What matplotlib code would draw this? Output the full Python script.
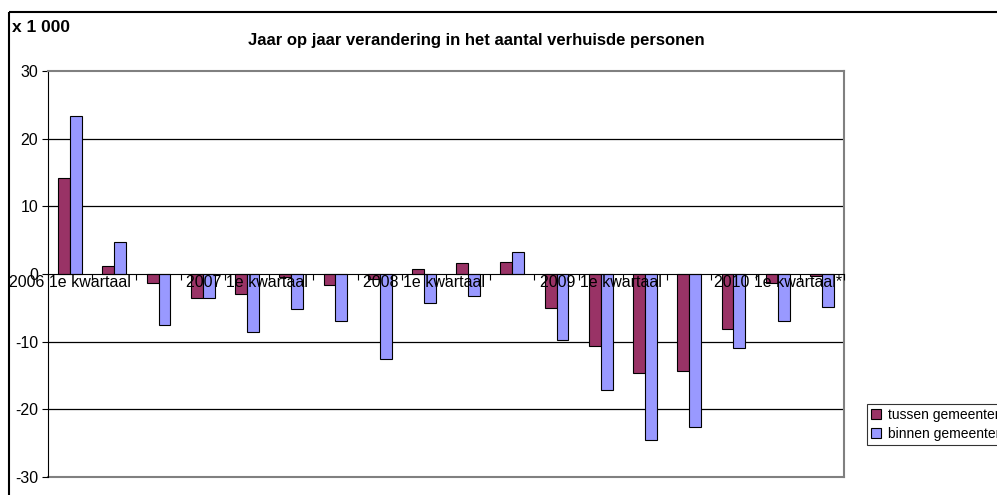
import matplotlib
matplotlib.use('Agg')
import matplotlib.pyplot as plt
from matplotlib.patches import Rectangle
import numpy as np

plt.rcParams['font.family'] = ['Liberation Sans', 'DejaVu Sans']
plt.rcParams['axes.unicode_minus'] = False

# Kwartalen 2006 Q1 t/m 2010 Q2
labels = ['2006 1e kwartaal', '', '', '',
          '2007 1e kwartaal', '', '', '',
          '2008 1e kwartaal', '', '', '',
          '2009 1e kwartaal', '', '', '',
          '2010 1e kwartaal*', '']
tussen = [14.2, 1.2, -1.3, -3.6, -2.9, -0.4, -1.6, -0.7, 0.8, 1.6,
          1.8, -5.0, -10.7, -14.7, -14.3, -8.2, -1.4, -0.3]
binnen = [23.3, 4.7, -7.5, -3.5, -8.6, -5.2, -7.0, -12.5, -4.3, -3.3,
          3.2, -9.7, -17.1, -24.6, -22.6, -11.0, -7.0, -4.9]
series_names = ['tussen gemeenten', 'binnen gemeenten']
yticks = [-30, -20, -10, 0, 10, 20, 30]

W, H = 997, 495
fig = plt.figure(figsize=(W / 100, H / 100), dpi=100)

# buitenkader van de grafiek
fig.patches.append(Rectangle((9 / W, 1 - 12 / H), 2, -2, transform=fig.transFigure,
                             fill=False, edgecolor='black', linewidth=1.5))

ax = fig.add_axes([48 / W, 1 - 477 / H, (844 - 48) / W, (477 - 71) / H])

x = np.arange(len(tussen))
bw = 0.27
ax.bar(x - bw / 2, tussen, bw, color='#993366', edgecolor='black', linewidth=0.8,
       label=series_names[0], zorder=2)
ax.bar(x + bw / 2, binnen, bw, color='#9999FF', edgecolor='black', linewidth=0.8,
       label=series_names[1], zorder=2)

ax.set_xlim(-0.5, len(x) - 0.5)
ax.set_ylim(-30, 30)

# rasterlijnen
for v in [-20, -10, 10, 20]:
    ax.axhline(v, color='black', linewidth=0.9, zorder=1)
ax.axhline(-30, color='#808080', linewidth=1.5, zorder=1, clip_on=False)

ax.spines['top'].set_color('#808080')
ax.spines['top'].set_linewidth(1.5)
ax.spines['right'].set_color('#808080')
ax.spines['right'].set_linewidth(1.5)
ax.spines['left'].set_color('black')
ax.spines['bottom'].set_position(('data', 0))
ax.spines['bottom'].set_color('black')
ax.spines['bottom'].set_zorder(4)
ax.xaxis.set_zorder(5)

ax.set_yticks(yticks)
ax.set_yticklabels([str(v) for v in yticks], fontsize=11.5)
ax.tick_params(axis='y', direction='out', length=4, pad=3)

ax.set_xticks(np.arange(len(x) + 1) - 0.5)
ax.set_xticklabels([])
ax.tick_params(axis='x', which='major', direction='out', length=4)
ax.set_xticks(x, minor=True)
ax.set_xticklabels(labels, minor=True, fontsize=11.5)
ax.tick_params(axis='x', which='minor', length=0, pad=0.5)

fig.text(12 / W, 1 - 27 / H, 'x 1 000', fontsize=12.5, fontweight='bold', va='center')
fig.text(476 / W, 1 - 41 / H, 'Jaar op jaar verandering in het aantal verhuisde personen',
         fontsize=12, fontweight='bold', ha='center', va='center')

leg = fig.legend(loc='upper left', bbox_to_anchor=(867 / W, 1 - 404 / H), fontsize=10,
                 frameon=True, fancybox=False, edgecolor='black', handlelength=0.7,
                 handleheight=0.7, handletextpad=0.5, borderpad=0.3, labelspacing=0.35,
                 borderaxespad=0)
leg.get_frame().set_linewidth(0.8)

fig.savefig('out.png', dpi=100)
